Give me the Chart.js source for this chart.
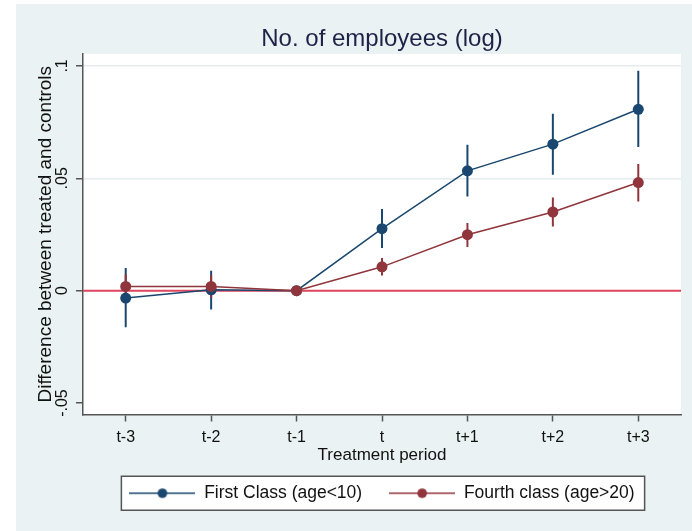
<!DOCTYPE html>
<html>
<head>
<meta charset="utf-8">
<script src="https://cdn.jsdelivr.net/npm/chart.js@4.4.1/dist/chart.umd.min.js"></script>
<style>
  html, body { margin: 0; padding: 0; background: #fff; }
  #wrap { width: 692px; height: 531px; }
</style>
</head>
<body>
<div id="wrap"><canvas id="chart" width="692" height="531"></canvas></div>
<script>
// values
const periods = ['t-3', 't-2', 't-1', 't', 't+1', 't+2', 't+3'];
const firstClass = [-0.0033, 0.0004, 0, 0.0276, 0.0533, 0.0652, 0.0807];
const firstLow = [-0.0163, -0.0084, null, 0.0190, 0.0419, 0.0516, 0.0639];
const firstHigh = [0.0101, 0.0089, null, 0.0363, 0.0649, 0.0787, 0.0978];
const fourthClass = [0.0019, 0.0019, 0, 0.0106, 0.0249, 0.0350, 0.0481];
const fourthLow = [-0.0035, -0.0030, null, 0.0068, 0.0194, 0.0286, 0.0397];
const fourthHigh = [0.0073, 0.0070, null, 0.0145, 0.0301, 0.0415, 0.0564];
const zeroLine = [0, 0];
const yTickValues = [-0.05, 0, 0.05, 0.1];
const yTickLabels = ['-.05', '0', '.05', '.1'];

const BLUE = '#1A476F';
const RED = '#90353B';
const ZERO_RED = '#E2465F';
const BG = '#EAF2F3';
const X_MIN = -0.5, X_MAX = 6.5;
const Y_MIN = -0.0551, Y_MAX = 0.1053;

Chart.defaults.font.family = '"Liberation Sans", Arial, sans-serif';
Chart.defaults.color = '#222';

const asPoints = (vals) => vals.map((y, i) => ({ x: i, y }));

// vertical CI segments, broken apart with null gaps
function capPoints(low, high) {
  const pts = [];
  low.forEach((lo, i) => {
    if (lo === null) return;
    pts.push({ x: i, y: lo }, { x: i, y: high[i] }, { x: i, y: null });
  });
  return pts;
}

function legendSymbol(color) {
  const c = document.createElement('canvas');
  c.width = 66;
  c.height = 12;
  const g = c.getContext('2d');
  g.strokeStyle = color;
  g.lineWidth = 1.5;
  g.beginPath();
  g.moveTo(0, 6);
  g.lineTo(66, 6);
  g.stroke();
  g.fillStyle = color;
  g.beginPath();
  g.arc(33, 6, 4.8, 0, Math.PI * 2);
  g.fill();
  return c;
}

const symbols = { 'First Class (age<10)': legendSymbol(BLUE), 'Fourth class (age>20)': legendSymbol(RED) };

const backdrop = {
  id: 'backdrop',
  beforeDraw(chart) {
    const { ctx, chartArea: a, width, height } = chart;
    ctx.save();
    ctx.fillStyle = '#fff';
    ctx.fillRect(0, 0, width, height);
    ctx.fillStyle = BG;
    ctx.fillRect(16, 4, width - 16, height - 4);
    ctx.fillStyle = '#fff';
    ctx.fillRect(a.left, a.top, a.right - a.left, a.bottom - a.top);

    const hb = chart.legend.legendHitBoxes;
    if (hb && hb.length) {
      const last = hb[hb.length - 1];
      const left = hb[0].left - 8;
      const right = last.left + last.width + 10;
      const mid = hb[0].top + hb[0].height / 2;
      ctx.fillRect(left, mid - 17, right - left, 34);
      ctx.strokeStyle = '#555';
      ctx.lineWidth = 1.5;
      ctx.strokeRect(left, mid - 17, right - left, 34);
    }
    ctx.restore();
  },
};

new Chart(document.getElementById('chart'), {
  type: 'line',
  data: {
    datasets: [
      {
        label: 'Fourth class (age>20)',
        data: asPoints(fourthClass),
        borderColor: RED,
        backgroundColor: RED,
        borderWidth: 1.5,
        pointRadius: 5.5,
        pointBorderWidth: 0,
        order: 0,
      },
      {
        label: 'First Class (age<10)',
        data: asPoints(firstClass),
        borderColor: BLUE,
        backgroundColor: BLUE,
        borderWidth: 1.5,
        pointRadius: 5.5,
        pointBorderWidth: 0,
        order: 1,
      },
      {
        label: 'ci4',
        data: capPoints(fourthLow, fourthHigh),
        borderColor: RED,
        borderWidth: 2,
        pointRadius: 0,
        spanGaps: false,
        order: 2,
      },
      {
        label: 'ci1',
        data: capPoints(firstLow, firstHigh),
        borderColor: BLUE,
        borderWidth: 2,
        pointRadius: 0,
        spanGaps: false,
        order: 3,
      },
      {
        label: 'zero',
        data: [{ x: X_MIN, y: zeroLine[0] }, { x: X_MAX, y: zeroLine[1] }],
        borderColor: ZERO_RED,
        borderWidth: 2,
        pointRadius: 0,
        order: 4,
      },
    ],
  },
  options: {
    responsive: false,
    animation: false,
    layout: { padding: { left: 34, right: 11, top: 0, bottom: 19 } },
    plugins: {
      tooltip: { enabled: false },
      title: {
        display: true,
        text: 'No. of employees (log)',
        fullSize: false,
        color: '#1D2247',
        font: { size: 24, weight: 'normal' },
        padding: { top: 25, bottom: 0.2 },
      },
      legend: {
        position: 'bottom',
        fullSize: false,
        reverse: true,
        labels: {
          usePointStyle: true,
          pointStyleWidth: 66,
          padding: 27,
          color: '#111',
          font: { size: 17.5 },
          filter: (item) => item.text in symbols,
          generateLabels(chart) {
            const items = Chart.defaults.plugins.legend.labels.generateLabels(chart);
            items.forEach((it) => { if (symbols[it.text]) it.pointStyle = symbols[it.text]; });
            return items;
          },
        },
      },
    },
    scales: {
      x: {
        type: 'linear',
        min: X_MIN,
        max: X_MAX,
        afterBuildTicks: (s) => { s.ticks = periods.map((_, i) => ({ value: i })); },
        afterFit: (s) => { s.height = 43; },
        ticks: {
          callback: (v) => periods[v],
          font: { size: 16 },
          padding: 6,
          maxRotation: 0,
          color: '#111',
        },
        grid: { drawOnChartArea: false, tickLength: 7, tickColor: '#555', tickWidth: 1.5 },
        border: { color: '#555', width: 1.5 },
        title: {
          display: true,
          text: 'Treatment period',
          font: { size: 17 },
          color: '#111',
          padding: { top: 0, bottom: -8 },
        },
      },
      y: {
        min: Y_MIN,
        max: Y_MAX,
        afterBuildTicks: (s) => { s.ticks = yTickValues.map((v) => ({ value: v })); },
        afterFit: (s) => { s.width = 49; },
        ticks: {
          callback: (v) => yTickLabels[yTickValues.indexOf(v)],
          font: { size: 16 },
          minRotation: 90,
          maxRotation: 90,
          crossAlign: 'center',
          padding: 0,
          color: '#111',
        },
        grid: {
          color: (c) => (c.tick && c.tick.value === -0.05 ? 'rgba(0,0,0,0)' : '#E4ECEE'),
          lineWidth: 1.5,
          tickLength: 7,
          tickColor: '#555',
          tickWidth: 1.5,
        },
        border: { color: '#555', width: 1.5 },
        title: {
          display: true,
          text: 'Difference between treated and controls',
          font: { size: 19 },
          color: '#111',
          padding: { top: 0, bottom: 0 },
        },
      },
    },
  },
  plugins: [backdrop],
});
</script>
</body>
</html>
